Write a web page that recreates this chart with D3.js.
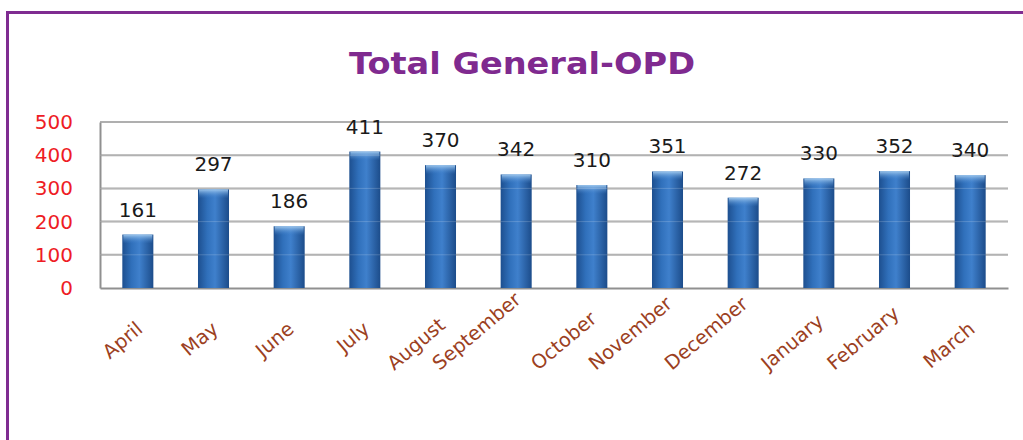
<!DOCTYPE html>
<html>
<head>
<meta charset="utf-8">
<script src="https://cdn.jsdelivr.net/npm/d3@7"></script>
<style>
  body { margin: 0; background: #fff; }
  svg { display: block; }
</style>
</head>
<body>
<div id="chart"></div>
<script>
const months = ['April', 'May', 'June', 'July', 'August', 'September', 'October', 'November', 'December', 'January', 'February', 'March'];
const opdCounts = [161, 297, 186, 411, 370, 342, 310, 351, 272, 330, 352, 340];
const yTicks = [0, 100, 200, 300, 400, 500];
const chartTitle = 'Total General-OPD';

const width = 1023;
const height = 440;
const plot = { left: 100, right: 1008, top: 122, bottom: 288 };

const svg = d3.select('#chart')
  .append('svg')
  .attr('width', width)
  .attr('height', height);

// gradients for the cylinder-ish bars
const defs = svg.append('defs');
const side = defs.append('linearGradient').attr('id', 'barSide')
  .attr('x1', '0%').attr('x2', '100%').attr('y1', '0%').attr('y2', '0%');
side.append('stop').attr('offset', '0%').attr('stop-color', '#1d4f8f');
side.append('stop').attr('offset', '30%').attr('stop-color', '#3070bb');
side.append('stop').attr('offset', '55%').attr('stop-color', '#3f80cc');
side.append('stop').attr('offset', '100%').attr('stop-color', '#1c4c8a');

const cap = defs.append('linearGradient').attr('id', 'barCap')
  .attr('x1', '0%').attr('x2', '0%').attr('y1', '0%').attr('y2', '100%');
cap.append('stop').attr('offset', '0%').attr('stop-color', '#a4ccf0').attr('stop-opacity', 0.95);
cap.append('stop').attr('offset', '100%').attr('stop-color', '#3f80cc').attr('stop-opacity', 0);

// purple frame (open on the right and bottom)
svg.append('path')
  .attr('d', `M7.5,${height + 2} L7.5,12.5 L${width + 2},12.5`)
  .attr('fill', 'none')
  .attr('stroke', '#7f2c91')
  .attr('stroke-width', 3);

svg.append('text')
  .attr('x', 522)
  .attr('y', 74)
  .attr('text-anchor', 'middle')
  .attr('font-family', 'DejaVu Sans, sans-serif')
  .attr('font-weight', 'bold')
  .attr('font-size', 31)
  .attr('textLength', 346)
  .attr('lengthAdjust', 'spacingAndGlyphs')
  .attr('fill', '#7f2a8f')
  .text(chartTitle);

const x = d3.scaleBand()
  .domain(months)
  .range([plot.left, plot.right])
  .paddingInner(0.59)
  .paddingOuter(0.295);

const y = d3.scaleLinear()
  .domain([0, 500])
  .range([plot.bottom, plot.top]);

// gridlines
svg.append('g')
  .selectAll('line')
  .data(yTicks.filter(d => d > 0))
  .enter()
  .append('line')
  .attr('x1', plot.left)
  .attr('x2', plot.right)
  .attr('y1', d => y(d))
  .attr('y2', d => y(d))
  .attr('stroke', '#a8a8a8')
  .attr('stroke-width', 2);

// y axis
const yAxis = d3.axisLeft(y).tickValues(yTicks).tickSize(0).tickPadding(27);
const gy = svg.append('g').attr('transform', `translate(${plot.left},0)`).call(yAxis);
gy.select('.domain').attr('stroke', '#909090').attr('stroke-width', 2);
gy.selectAll('text')
  .attr('font-family', 'DejaVu Sans, sans-serif')
  .attr('font-size', 20)
  .attr('fill', '#ee1c25');

// x axis
const xAxis = d3.axisBottom(x).tickSize(0).tickFormat('');
const gx = svg.append('g').attr('transform', `translate(0,${plot.bottom})`).call(xAxis);
gx.select('.domain').attr('stroke', '#909090').attr('stroke-width', 2);

// rotated month labels: end anchored under the tick, long ones pushed up to fit
const angle = 40;
const rad = angle * Math.PI / 180;
const labelEndY = 331;
const labelMaxStartY = 371;
svg.append('g')
  .selectAll('text')
  .data(months)
  .enter()
  .append('text')
  .attr('text-anchor', 'end')
  .attr('font-family', 'DejaVu Sans, sans-serif')
  .attr('font-size', 19.5)
  .attr('fill', '#9c3f22')
  .text(d => d)
  .each(function(d) {
    const len = this.getComputedTextLength();
    const lift = Math.max(0, labelEndY + len * Math.sin(rad) - labelMaxStartY);
    const tx = x(d) + x.bandwidth() / 2 + 6;
    d3.select(this).attr('transform', `translate(${tx},${labelEndY - lift}) rotate(${-angle})`);
  });

// bars
const bars = svg.append('g');
bars.selectAll('rect.bar')
  .data(opdCounts)
  .enter()
  .append('rect')
  .attr('class', 'bar')
  .attr('x', (d, i) => x(months[i]))
  .attr('y', d => y(d))
  .attr('width', x.bandwidth())
  .attr('height', d => y(0) - y(d))
  .attr('fill', 'url(#barSide)');

bars.selectAll('rect.cap')
  .data(opdCounts)
  .enter()
  .append('rect')
  .attr('class', 'cap')
  .attr('x', (d, i) => x(months[i]) + 1)
  .attr('y', d => y(d))
  .attr('width', x.bandwidth() - 2)
  .attr('height', 9)
  .attr('fill', 'url(#barCap)');

// faint gridlines showing through the bars
svg.append('g')
  .selectAll('line')
  .data(yTicks.filter(d => d > 0))
  .enter()
  .append('line')
  .attr('x1', plot.left)
  .attr('x2', plot.right)
  .attr('y1', d => y(d))
  .attr('y2', d => y(d))
  .attr('stroke', '#ffffff')
  .attr('stroke-opacity', 0.18)
  .attr('stroke-width', 1);

// value labels
svg.append('g')
  .selectAll('text')
  .data(opdCounts)
  .enter()
  .append('text')
  .attr('x', (d, i) => x(months[i]) + x.bandwidth() / 2)
  .attr('y', d => y(d) - 18)
  .attr('text-anchor', 'middle')
  .attr('font-family', 'DejaVu Sans, sans-serif')
  .attr('font-size', 20)
  .attr('fill', '#1a1a1a')
  .text(d => d);
</script>
</body>
</html>
